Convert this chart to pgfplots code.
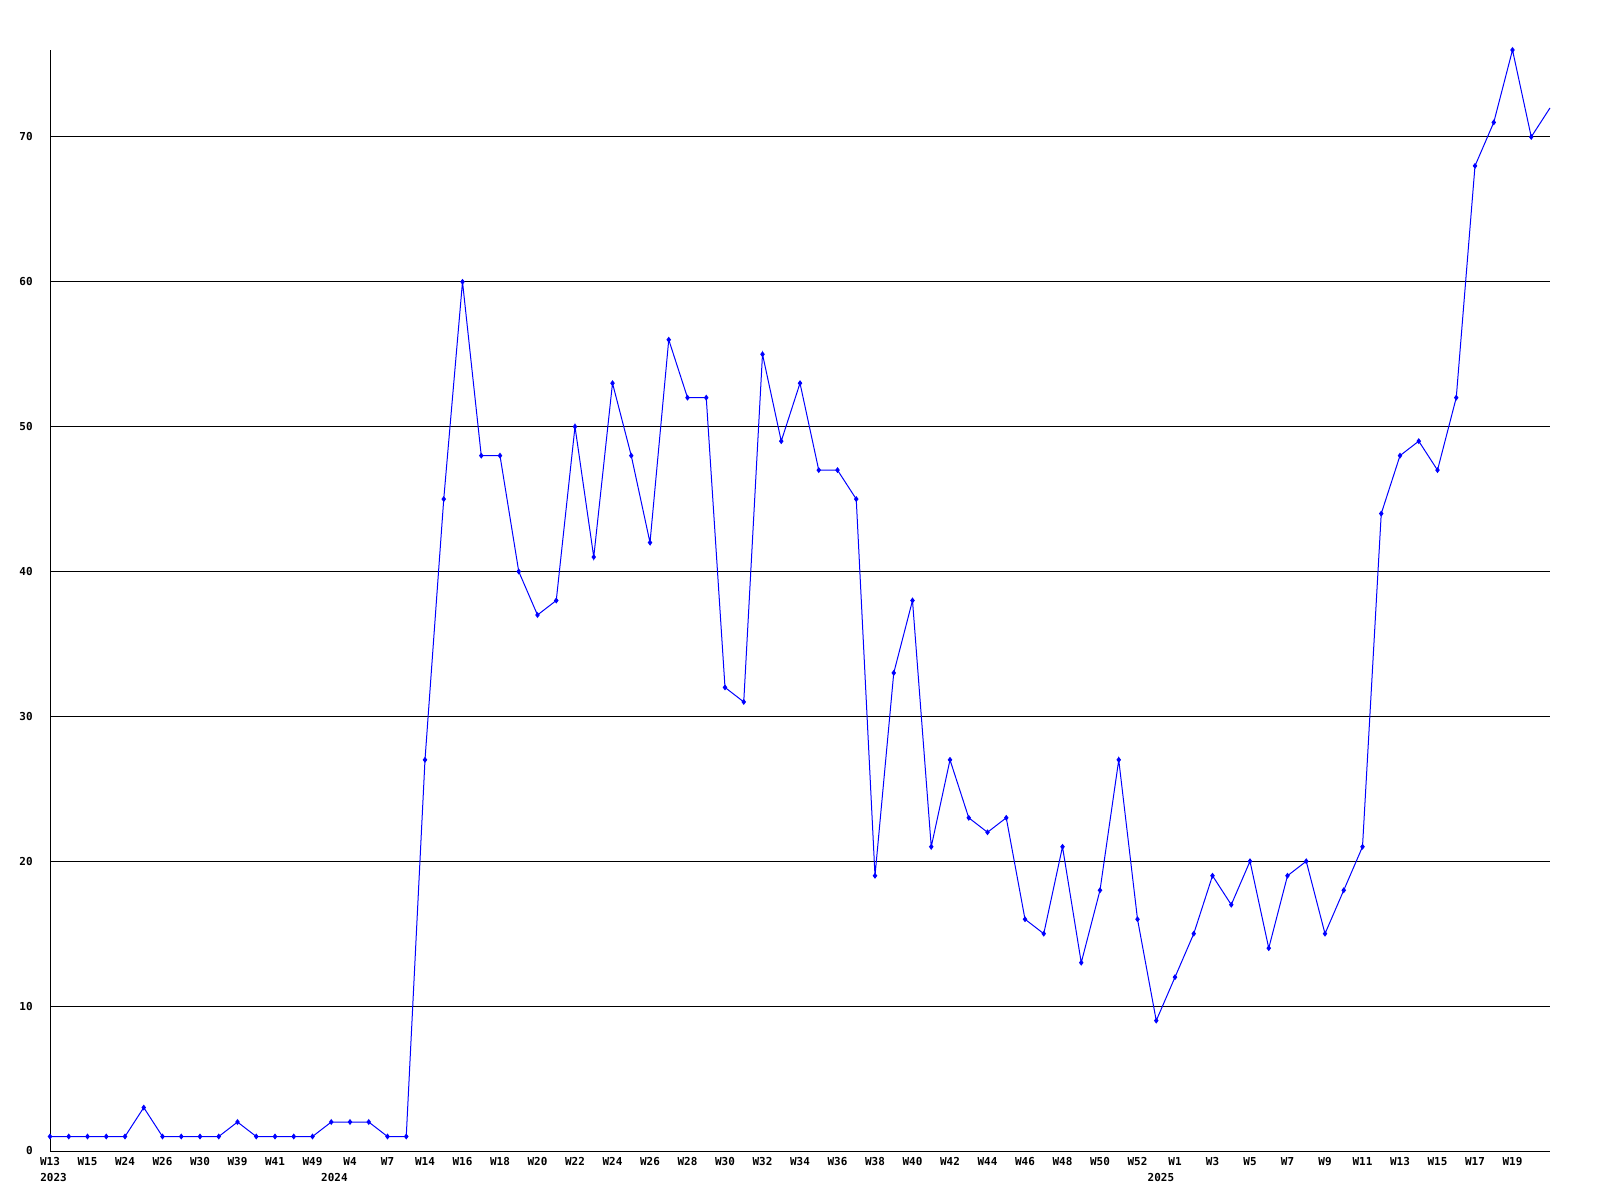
\documentclass[border=0pt]{standalone}
\usepackage{fontspec}
\setmonofont{DejaVu Sans Mono}
\usepackage{pgfplots}
\pgfplotsset{compat=1.18}
\definecolor{lineblue}{RGB}{0,0,255}
\begin{document}
\begin{tikzpicture}
\useasboundingbox (-25bp,-24.5bp) rectangle (775bp,575.5bp);
\begin{axis}[
  at={(0,0)}, anchor=south west,
  scale only axis, width=750bp, height=550.5bp,
  xmin=0, xmax=80, ymin=0, ymax=76,
  axis x line=bottom, axis y line=left,
  axis line style={-, black, line width=0.5bp},
  clip=false,
  major tick length=0pt,
  ytick={0,10,...,70},
  yticklabels={0,10,20,30,40,50,60,70},
  ymajorgrids,
  major grid style={black, line width=0.5bp},
  xtick={0,2,...,78},
  xticklabels={W13,W15,W24,W26,W30,W39,W41,W49,W4,W7,W14,W16,W18,W20,W22,W24,W26,W28,W30,W32,W34,W36,W38,W40,W42,W44,W46,W48,W50,W52,W1,W3,W5,W7,W9,W11,W13,W15,W17,W19},
  tick label style={font=\ttfamily\bfseries\fontsize{5.5}{6}\selectfont, inner sep=0pt},
  yticklabel style={anchor=east, xshift=-8.5bp},
  xticklabel style={anchor=north, yshift=-3bp},
]
\addplot[lineblue, line width=0.5bp, mark=diamond*, mark size=1.1bp, mark options={fill=lineblue, draw=lineblue}] coordinates {
(0,1)(1,1)(2,1)(3,1)(4,1)(5,3)(6,1)(7,1)(8,1)(9,1)
(10,2)(11,1)(12,1)(13,1)(14,1)(15,2)(16,2)(17,2)(18,1)(19,1)
(20,27)(21,45)(22,60)(23,48)(24,48)(25,40)(26,37)(27,38)(28,50)(29,41)
(30,53)(31,48)(32,42)(33,56)(34,52)(35,52)(36,32)(37,31)(38,55)(39,49)
(40,53)(41,47)(42,47)(43,45)(44,19)(45,33)(46,38)(47,21)(48,27)(49,23)
(50,22)(51,23)(52,16)(53,15)(54,21)(55,13)(56,18)(57,27)(58,16)(59,9)
(60,12)(61,15)(62,19)(63,17)(64,20)(65,14)(66,19)(67,20)(68,15)(69,18)
(70,21)(71,44)(72,48)(73,49)(74,47)(75,52)(76,68)(77,71)(78,76)(79,70)
};
\addplot[lineblue, line width=0.5bp, mark=none] coordinates {(79,70)(80,72)};
\node[anchor=north, inner sep=0pt, font=\ttfamily\bfseries\fontsize{5.5}{6}\selectfont] at (axis cs:0.19,0) [yshift=-11bp] {2023};
\node[anchor=north, inner sep=0pt, font=\ttfamily\bfseries\fontsize{5.5}{6}\selectfont] at (axis cs:15.17,0) [yshift=-11bp] {2024};
\node[anchor=north, inner sep=0pt, font=\ttfamily\bfseries\fontsize{5.5}{6}\selectfont] at (axis cs:59.25,0) [yshift=-11bp] {2025};
\end{axis}
\end{tikzpicture}
\end{document}
